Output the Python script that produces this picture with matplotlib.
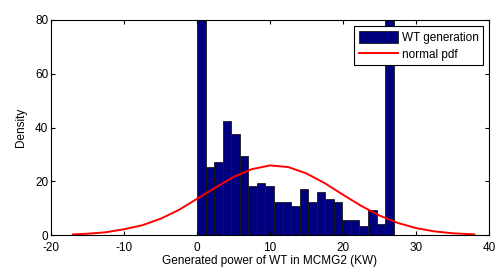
import numpy as np
import matplotlib.pyplot as plt

plt.rcParams['font.family'] = ['Liberation Sans', 'DejaVu Sans']
plt.rcParams['axes.unicode_minus'] = False

# histogram of WT generation (bin edges 0 .. ~26.9, 23 bins)
bin_start = 0.0
bin_width = 1.171
density = [150, 25.3, 27.0, 42.4, 37.5, 29.4, 18.2, 19.3, 18.1, 12.2, 12.2, 11.0,
           17.1, 12.2, 16.0, 13.3, 12.2, 5.5, 5.5, 3.2, 9.2, 4.2, 100]

# fitted normal pdf
pdf_x = [-17, -15, -12.5, -10, -7.5, -5, -2.5, 0, 2.5, 5, 7.5, 10, 12.5, 15,
         17.5, 20, 22.5, 25, 27.5, 30, 32.5, 35, 38]
pdf_y = [0.27, 0.51, 1.06, 2.17, 3.66, 6.07, 9.33, 13.5, 17.6, 21.6, 24.5, 25.9,
         25.3, 22.9, 19.3, 15.0, 10.85, 7.28, 4.52, 2.61, 1.39, 0.69, 0.27]

edges = bin_start + bin_width * np.arange(len(density) + 1)

fig = plt.figure(figsize=(4.95, 2.69), dpi=100)
ax = fig.add_axes([0.103, 0.126, 0.885, 0.8])

bars = ax.bar(edges[:-1], density, width=bin_width, align='edge',
              color='#00007f', edgecolor='#1a1a1a', linewidth=0.6)
line, = ax.plot(pdf_x, pdf_y, color='red', linewidth=1.4)

ax.set_xlim(-20, 40)
ax.set_ylim(0, 80)
ax.set_xticks(range(-20, 41, 10))
ax.set_yticks(range(0, 81, 20))
ax.tick_params(direction='in', top=True, right=True, labelsize=8.5, length=3)
ax.tick_params(axis='x', pad=5)
ax.tick_params(axis='y', pad=2)
ax.set_xlabel('Generated power of WT in MCMG2 (KW)', fontsize=8.5, labelpad=1)
ax.set_ylabel('Density', fontsize=8.5, labelpad=6)

leg = ax.legend([bars, line], ['WT generation', 'normal pdf'], loc='upper right',
                fontsize=8.5, fancybox=False, framealpha=1, edgecolor='black',
                handlelength=3.3, handleheight=1.2, borderaxespad=0.5,
                borderpad=0.4, labelspacing=0.35, handletextpad=0.3)
leg.get_frame().set_linewidth(0.8)

fig.savefig('out.png', dpi=100)
